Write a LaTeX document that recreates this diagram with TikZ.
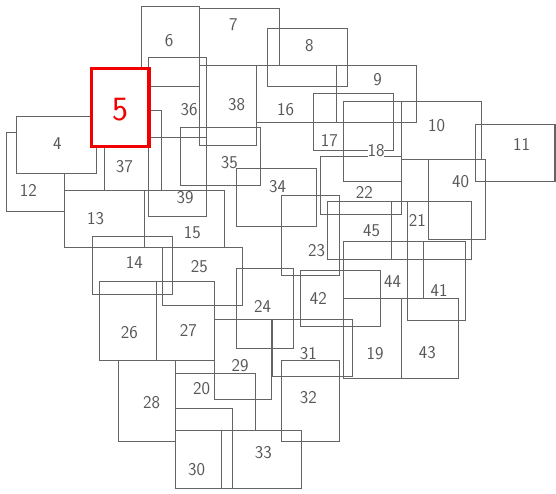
\documentclass[tikz,border=0pt]{standalone}
\usepackage{fontspec}
\definecolor{boxgray}{RGB}{100,100,100}
\definecolor{labelgray}{RGB}{88,88,88}
\definecolor{markred}{RGB}{240,0,0}
\begin{document}
\begin{tikzpicture}[x=1pt, y=-1pt,
  box/.style={draw=boxgray, line width=1.5pt},
  lbl/.style={text=labelgray, inner sep=0pt, font=\sffamily\fontsize{18}{18}\selectfont}]
  \useasboundingbox (0,0) rectangle (556,493);
  % boxes
  \draw[box] (6.5,132.5) rectangle (64.5,211.5);
  \draw[box, fill=white] (16.5,116.5) rectangle (96.5,173.5);
  \draw[box] (141.5,6.5) rectangle (199.5,86.5);
  \draw[box] (199.5,8.5) rectangle (279.5,65.5);
  \draw[box] (267.5,28.5) rectangle (347.5,86.5);
  \draw[box] (336.5,65.5) rectangle (416.5,122.5);
  \draw[box] (401.5,101.5) rectangle (481.5,159.5);
  \draw[box] (475.5,124.5) rectangle (555.2,181.5);
  \draw[box] (64.5,190.5) rectangle (144.5,247.5);
  \draw[box] (92.5,236.5) rectangle (172.5,294.5);
  \draw[box] (144.5,190.5) rectangle (224.5,247.5);
  \draw[box] (256.5,65.5) rectangle (336.5,122.5);
  \draw[box] (313.5,93.5) rectangle (393.5,150.5);
  \draw[box] (343.5,101.5) rectangle (401.5,181.5);
  \draw[box] (343.5,298.5) rectangle (401.5,378.5);
  \draw[box] (175.5,373.5) rectangle (255.5,430.5);
  \draw[box] (391.5,201.5) rectangle (471.5,259.5);
  \draw[box] (320.5,156.5) rectangle (401.5,214.5);
  \draw[box] (281.5,195.5) rectangle (339.5,275.5);
  \draw[box] (236.5,268.5) rectangle (293.5,348.5);
  \draw[box] (162.5,247.5) rectangle (242.5,305.5);
  \draw[box] (99.5,281.5) rectangle (156.5,360.5);
  \draw[box] (156.5,281.5) rectangle (214.5,360.5);
  \draw[box] (118.5,360.5) rectangle (175.5,441.5);
  \draw[box] (214.5,319.5) rectangle (271.5,399.5);
  \draw[box] (175.5,408.5) rectangle (232.5,488.5);
  \draw[box] (272.5,319.5) rectangle (352.5,376.5);
  \draw[box] (281.5,360.5) rectangle (339.5,441.5);
  \draw[box] (221.5,430.5) rectangle (301.5,488.5);
  \draw[box] (236.5,168.5) rectangle (316.5,226.5);
  \draw[box] (180.5,127.5) rectangle (260.5,185.5);
  \draw[box] (148.5,57.5) rectangle (206.5,137.5);
  \draw[box] (104.5,110.5) rectangle (161.5,190.5);
  \draw[box] (199.5,65.5) rectangle (256.5,145.5);
  \draw[box] (148.5,137.5) rectangle (206.5,216.5);
  \draw[box] (428.5,159.5) rectangle (485.5,239.5);
  \draw[box] (407.5,241.5) rectangle (465.5,320.5);
  \draw[box] (300.5,270.5) rectangle (380.5,326.5);
  \draw[box] (401.5,298.5) rectangle (458.5,378.5);
  \draw[box] (343.5,241.5) rectangle (423.5,298.5);
  \draw[box] (327.5,201.5) rectangle (407.5,259.5);
  % the marked one
  \draw[draw=markred, line width=3.3pt, fill=white] (91.5,68.5) rectangle (149,146.5);
  % numbers
  \node[text=markred, inner sep=0pt, font=\sffamily\fontsize{34}{34}\selectfont] (n5) at (120.5,109.7) {5};
  \node[lbl] (n4) at (57.3,143.3) {4};
  \node[lbl] (n6) at (169,41) {6};
  \node[lbl] (n7) at (233.3,25) {7};
  \node[lbl] (n8) at (309.3,46) {8};
  \node[lbl] (n9) at (377.7,80) {9};
  \node[lbl] (n10) at (436.7,125.7) {10};
  \node[lbl] (n11) at (521.7,144) {11};
  \node[lbl] (n12) at (28.3,190) {12};
  \node[lbl] (n13) at (95.7,218.3) {13};
  \node[lbl] (n14) at (134.3,262.3) {14};
  \node[lbl] (n15) at (192.3,232.7) {15};
  \node[lbl] (n16) at (285.7,110) {16};
  \node[lbl] (n17) at (329.3,140.7) {17};
  \node[lbl, fill=white] (n18) at (376,151) {18};
  \node[lbl] (n19) at (375,354) {19};
  \node[lbl] (n20) at (201.7,388.3) {20};
  \node[lbl] (n21) at (417.3,220) {21};
  \node[lbl] (n22) at (364.3,192.3) {22};
  \node[lbl] (n23) at (316.7,250.7) {23};
  \node[lbl] (n24) at (262.7,306) {24};
  \node[lbl] (n25) at (199.3,266.7) {25};
  \node[lbl] (n26) at (129.3,332.3) {26};
  \node[lbl] (n27) at (188.3,331) {27};
  \node[lbl] (n28) at (151.7,402.7) {28};
  \node[lbl] (n29) at (240,365.7) {29};
  \node[lbl] (n30) at (196.7,469.3) {30};
  \node[lbl] (n31) at (308.3,354) {31};
  \node[lbl] (n32) at (308.3,397.7) {32};
  \node[lbl] (n33) at (263.3,452.7) {33};
  \node[lbl] (n34) at (277.5,186.5) {34};
  \node[lbl] (n35) at (229.3,162.7) {35};
  \node[lbl] (n36) at (189,110) {36};
  \node[lbl] (n37) at (124.3,166.7) {37};
  \node[lbl] (n38) at (236.7,105) {38};
  \node[lbl] (n39) at (185,197.3) {39};
  \node[lbl] (n40) at (460.7,181.7) {40};
  \node[lbl] (n41) at (439,290) {41};
  \node[lbl] (n42) at (318.3,298.3) {42};
  \node[lbl] (n43) at (427.3,352.7) {43};
  \node[lbl] (n44) at (392.7,281.7) {44};
  \node[lbl] (n45) at (371.7,230.7) {45};
\end{tikzpicture}
\end{document}
